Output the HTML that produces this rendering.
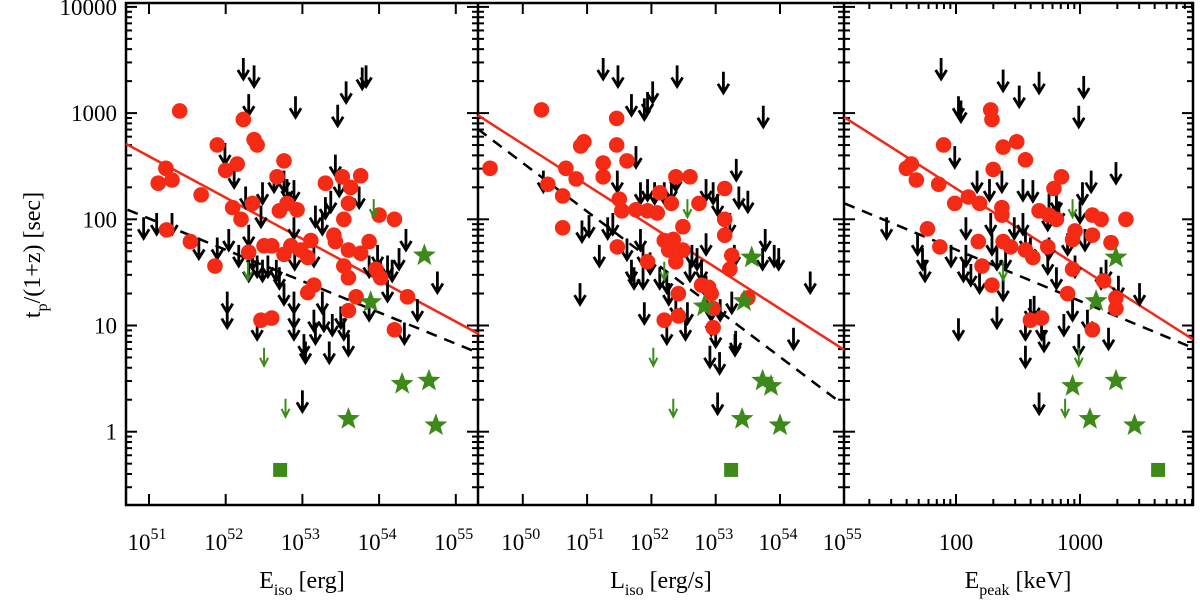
<!DOCTYPE html>
<html><head><meta charset="utf-8"><style>
html,body{margin:0;padding:0;background:#fff;}
svg{display:block;font-family:"Liberation Serif",serif;}
</style></head><body>
<svg id="chart" width="1200" height="604" viewBox="0 0 1200 604" xmlns="http://www.w3.org/2000/svg">
<g id="axes"></g>
<g id="marks"></g>
<text x="40" y="255" font-size="24" text-anchor="middle" transform="rotate(-90 40 255)">t<tspan font-size="16" dy="7">p</tspan><tspan dy="-7">/(1+z) [sec]</tspan></text>
<text x="302" y="588" font-size="24" text-anchor="middle">E<tspan font-size="16" dy="7">iso</tspan><tspan dy="-7"> [erg]</tspan></text>
<text x="661" y="588" font-size="24" text-anchor="middle">L<tspan font-size="16" dy="7">iso</tspan><tspan dy="-7"> [erg/s]</tspan></text>
<text x="1018" y="588" font-size="24" text-anchor="middle">E<tspan font-size="16" dy="7">peak</tspan><tspan dy="-7"> [keV]</tspan></text>
</svg>
<script>
// ---- data (log10 values) ----
const p1Red=[[51.40,3.02],[52.23,2.94],[52.37,2.75],[52.41,2.70],[51.12,2.34],[51.22,2.48],[51.3,2.37],[51.68,2.23],[51.89,2.70],[52.0,2.46],[52.15,2.52],[52.09,2.11],[52.2,2.00],[52.35,2.15],[51.23,1.90],[51.54,1.79],[51.86,1.56],[52.3,1.69],[52.5,1.75],[52.6,1.75],[52.76,2.55],[52.67,2.40],[52.7,2.08],[52.8,2.15],[52.93,2.09],[52.85,1.75],[52.98,1.71],[53.11,1.80],[53.07,1.64],[52.76,1.67],[53.15,1.38],[53.07,1.31],[52.46,1.05],[52.6,1.07],[53.3,2.34],[53.52,2.40],[53.76,2.41],[53.63,2.30],[53.6,2.15],[53.54,2.00],[53.41,1.85],[53.43,1.79],[53.6,1.71],[53.76,1.68],[53.87,1.79],[54.0,2.04],[54.2,2.00],[53.54,1.56],[53.6,1.45],[53.7,1.27],[53.6,1.14],[53.96,1.53],[54.37,1.27],[54.2,0.96],[54.02,1.45]];
const p1Arrow=[[52.23,3.50],[52.37,3.43],[52.3,3.16],[52.91,3.14],[53.46,3.06],[53.57,3.28],[53.78,3.41],[53.83,3.43],[51.99,2.70],[52.11,2.48],[52.26,2.29],[52.48,2.33],[52.63,2.44],[52.76,2.44],[52.8,2.36],[52.89,2.35],[53.43,2.59],[53.48,2.40],[53.37,2.25],[53.3,2.19],[53.74,2.29],[50.93,2.00],[51.1,2.04],[51.3,2.04],[51.65,1.81],[51.89,1.81],[52.04,1.89],[52.17,1.74],[52.3,1.93],[52.35,1.71],[52.46,2.11],[52.41,1.64],[52.48,1.60],[52.55,1.64],[52.66,1.60],[52.7,1.53],[52.89,2.00],[52.9,1.71],[53.17,2.11],[53.26,2.04],[53.15,1.74],[52.76,1.38],[52.89,1.30],[52.89,1.16],[52.89,1.05],[53.02,0.90],[53.04,0.83],[53.15,1.13],[53.17,1.01],[53.26,1.30],[53.28,1.13],[53.39,1.09],[53.35,0.83],[53.5,1.16],[53.54,1.05],[53.6,0.90],[53.87,1.64],[53.98,1.74],[54.02,1.60],[54.11,1.64],[54.11,1.41],[54.17,1.60],[54.26,1.71],[54.35,1.89],[53.87,1.23],[54.33,1.01],[54.5,1.23],[54.76,1.49],[52.02,1.30],[52.02,1.16],[52.41,1.05],[53.0,0.37],[52.3,1.60]];
const p1GreenArrow=[[53.93,2.19],[52.29,1.60],[52.5,0.79],[52.78,0.31]];
const p1Star=[[54.59,1.66],[53.89,1.22],[54.3,0.45],[54.65,0.48],[53.6,0.12],[54.74,0.06]];
const p1Square=[[52.71,-0.36]];
const p1RedFit=[[50.70,2.71],[55.30,0.92]];
const p1BlackFit=[[50.72,2.09],[55.3,0.74]];

const p2Red=[[49.49,2.48],[50.29,3.03],[51.46,2.95],[51.46,2.70],[50.9,2.69],[50.95,2.73],[50.67,2.48],[50.83,2.38],[51.25,2.53],[51.25,2.40],[51.62,2.55],[50.39,2.33],[50.62,2.22],[50.62,1.92],[51.5,2.19],[51.54,2.08],[51.76,2.09],[51.94,2.08],[52.09,2.06],[52.31,2.15],[52.38,2.40],[52.6,2.40],[52.13,2.25],[51.47,1.74],[52.2,1.80],[52.34,1.81],[52.27,1.71],[52.49,1.71],[52.38,1.60],[52.49,1.93],[52.74,2.15],[53.14,2.29],[53.14,2.00],[53.14,1.85],[53.25,1.66],[53.22,1.53],[52.78,1.38],[52.89,1.36],[52.42,1.30],[52.2,1.05],[52.42,1.09],[52.96,1.16],[52.96,0.98],[53.5,1.26],[51.94,1.60],[52.93,1.30]];
const p2Arrow=[[51.25,3.50],[51.48,3.43],[52.4,3.43],[53.12,3.37],[52.02,3.28],[51.94,3.18],[51.69,3.16],[51.89,3.12],[53.74,3.05],[51.76,2.67],[53.32,2.55],[51.47,2.44],[50.32,2.44],[50.92,1.97],[51.03,2.02],[51.32,2.00],[51.4,2.04],[51.83,2.33],[51.94,2.36],[52.05,2.33],[52.2,2.33],[52.31,2.36],[52.38,2.45],[52.85,2.36],[52.96,2.33],[53.03,2.22],[53.36,2.29],[53.5,2.25],[53.22,2.04],[53.77,1.89],[53.91,1.74],[53.98,1.71],[53.73,1.71],[53.29,1.74],[52.85,1.85],[52.63,1.74],[52.71,1.71],[51.19,1.74],[51.62,1.80],[51.69,1.60],[51.83,1.89],[51.87,1.74],[51.98,1.67],[52.13,1.53],[52.24,1.49],[51.73,1.53],[51.87,1.53],[52.27,1.38],[52.38,1.26],[52.56,1.20],[52.6,1.60],[52.78,1.60],[52.85,1.45],[52.93,1.23],[52.93,1.09],[53.0,0.98],[53.07,1.23],[53.25,1.30],[53.3,0.90],[53.31,0.93],[52.91,0.79],[53.06,0.73],[52.24,1.01],[52.53,1.05],[51.89,1.20],[50.89,1.38],[54.21,0.96],[54.47,1.49],[53.03,0.35]];
const p2GreenArrow=[[52.56,2.19],[52.2,1.60],[52.03,0.79],[52.34,0.31]];
const p2Star=[[53.56,1.64],[52.82,1.18],[53.44,1.23],[53.73,0.48],[53.86,0.43],[53.41,0.12],[54.0,0.06]];
const p2Square=[[53.24,-0.36]];
const p2RedFit=[[49.30,2.98],[55.0,0.77]];
const p2BlackFit=[[49.30,2.85],[54.95,0.27]];

const p3Red=[[1.60,2.48],[1.64,2.52],[1.68,2.37],[1.86,2.33],[1.90,2.70],[1.99,2.15],[2.10,2.21],[2.19,2.15],[1.77,1.91],[1.87,1.74],[2.28,3.03],[2.29,2.94],[2.38,2.68],[2.49,2.73],[2.56,2.56],[2.30,2.47],[2.37,2.11],[2.37,2.04],[2.18,1.79],[2.21,1.56],[2.29,1.38],[2.38,1.79],[2.44,1.74],[2.56,1.71],[2.62,1.64],[2.67,2.08],[2.74,1.74],[2.79,2.29],[2.85,2.40],[2.81,2.00],[2.90,1.30],[2.96,1.89],[2.94,1.81],[3.10,2.04],[3.17,2.00],[3.10,1.85],[3.37,2.00],[3.25,1.78],[3.19,1.42],[3.29,1.26],[3.29,1.16],[3.10,0.96],[2.60,1.05],[2.69,1.07],[2.94,1.53],[2.75,2.04]];
const p3Arrow=[[1.88,3.50],[2.38,3.39],[2.67,3.37],[3.03,3.33],[2.51,3.24],[2.02,3.14],[2.04,3.10],[2.99,3.05],[1.99,2.67],[3.29,2.52],[2.17,2.44],[2.27,2.36],[2.37,2.44],[2.54,2.36],[2.62,2.35],[2.75,2.22],[2.81,2.25],[3.02,2.33],[3.09,2.44],[1.44,2.00],[1.69,1.85],[1.73,1.71],[1.75,1.60],[1.96,1.74],[2.08,2.00],[2.08,1.74],[2.06,1.60],[2.12,1.56],[2.19,1.49],[2.28,2.04],[2.29,1.85],[2.33,1.71],[2.40,1.71],[2.47,2.00],[2.54,2.04],[2.56,1.89],[2.60,1.81],[2.74,2.08],[2.75,1.81],[2.83,2.15],[2.90,1.85],[3.00,2.15],[3.04,1.89],[2.96,1.64],[2.81,1.53],[2.74,1.67],[2.38,1.42],[2.33,1.16],[2.56,1.05],[2.60,1.23],[2.63,1.26],[2.69,1.05],[2.71,0.94],[2.87,1.09],[2.94,1.23],[3.06,1.13],[3.17,1.53],[3.21,1.60],[3.31,1.45],[3.23,0.96],[3.48,1.38],[2.02,1.05],[2.56,0.79],[2.67,0.35],[2.99,0.90]];
const p3GreenArrow=[[2.94,2.19],[2.38,1.60],[2.99,0.79],[2.88,0.31]];
const p3Star=[[3.29,1.64],[3.13,1.23],[2.94,0.43],[3.29,0.48],[3.08,0.12],[3.44,0.06]];
const p3Square=[[3.63,-0.36]];
const p3RedFit=[[1.10,2.96],[3.91,0.87]];
const p3BlackFit=[[1.10,2.15],[3.91,0.79]];

const yTickLabels=["1","10","100","1000","10000"];
const p1TickLabels=["51","52","53","54","55"];
const p2TickLabels=["50","51","52","53","54","55"];
const p3TickLabels=["100","1000"];

// ---- geometry ----
const TOP=3, BOT=505;
const yScale=v=>431.7-v*106.2;
const panels=[
 {name:'eiso',L:126,R:478,x:v=>149+(v-51)*76.7},
 {name:'liso',L:478,R:844,x:v=>844.3+(v-55)*64.3},
 {name:'epeak',L:844,R:1193,x:v=>956+(v-2)*124}
];
const NS='http://www.w3.org/2000/svg';
const axes=document.getElementById('axes'), marks=document.getElementById('marks');
function mk(tag,attrs,parent){const e=document.createElementNS(NS,tag);for(const k in attrs)e.setAttribute(k,attrs[k]);parent.appendChild(e);return e;}

const fr=mk('rect',{x:126,y:TOP,width:1067,height:BOT-TOP,fill:'none',stroke:'#000','stroke-width':2.5},axes);


[478,844].forEach(xx=>{const l=mk('line',{x1:xx,y1:TOP,x2:xx,y2:BOT,stroke:'#000','stroke-width':2.5},axes);
 
 });

const ymin=-0.69, ymax=4.04;
for(let d=-1;d<=4;d++){for(let m=1;m<=9;m++){const lv=d+Math.log10(m);if(lv<ymin||lv>ymax)continue;
 const y=yScale(lv), len=m===1?11:6;
 [[126,1],[478,1],[478,-1],[844,1],[844,-1],[1193,-1]].forEach(([xx,s])=>{
  const t=mk('line',{x1:xx,y1:y,x2:xx+s*len,y2:y,stroke:'#000','stroke-width':2},axes);
  
  });
}}
yTickLabels.forEach((lab,i)=>{const t=mk('text',{x:117,y:yScale(i)+8,'font-size':23,'text-anchor':'end'},axes);t.textContent=lab;
 
 });

function xtick(x,len){[[BOT,-1],[TOP,1]].forEach(([yy,s])=>{const t=mk('line',{x1:x,y1:yy,x2:x,y2:yy+s*len,stroke:'#000','stroke-width':2},axes);
 
 });}
function powLabel(x,exp,name){const t=mk('text',{x:x-2,y:550,'font-size':23,'text-anchor':'middle'},axes);
 t.textContent='10';const s=mk('tspan',{'font-size':16,dy:-11},t);s.textContent=exp;
 
 }
p1TickLabels.forEach(e=>{const x=panels[0].x(+e);xtick(x,11);powLabel(x,e,'x-tick-label-eiso');});
p2TickLabels.forEach(e=>{const x=panels[1].x(+e);if(x<843)xtick(x,11);powLabel(x,e,'x-tick-label-liso');});
for(let d=1;d<=3;d++)for(let m=1;m<=9;m++){const lv=d+Math.log10(m);const x=panels[2].x(lv);if(x<=845||x>=1192)continue;xtick(x,m===1?11:6);}
p3TickLabels.forEach((lab,i)=>{const t=mk('text',{x:panels[2].x(i+2),y:550,'font-size':23,'text-anchor':'middle'},axes);t.textContent=lab;
 
 });

const sets=[[p1Red,p1Arrow,p1GreenArrow,p1Star,p1Square,p1RedFit,p1BlackFit],[p2Red,p2Arrow,p2GreenArrow,p2Star,p2Square,p2RedFit,p2BlackFit],[p3Red,p3Arrow,p3GreenArrow,p3Star,p3Square,p3RedFit,p3BlackFit]];
function starPts(cx,cy,R){const r=R*0.42;let p=[];for(let i=0;i<10;i++){const a=-Math.PI/2+i*Math.PI/5,rr=i%2?r:R;p.push((cx+rr*Math.cos(a)).toFixed(1)+','+(cy+rr*Math.sin(a)).toFixed(1));}return p.join(' ');}
sets.forEach((s,pi)=>{const P=panels[pi];
 const g=mk('g',{},marks);
 
 
 const [red,arr,garr,star,sq,rf,bf]=s;
 const fitR=mk('line',{x1:P.x(rf[0][0]),y1:yScale(rf[0][1]),x2:P.x(rf[1][0]),y2:yScale(rf[1][1]),stroke:'#f02a18','stroke-width':2.5},g);
 
 
 const fitB=mk('line',{x1:P.x(bf[0][0]),y1:yScale(bf[0][1]),x2:P.x(bf[1][0]),y2:yScale(bf[1][1]),stroke:'#000','stroke-width':2.5,'stroke-dasharray':'11,8'},g);
 
 
 arr.forEach(([a,b])=>{const x=P.x(a),y=yScale(b);
  const e=mk('path',{d:`M${x},${y-2}V${y+17}M${x-5.5},${y+10}L${x},${y+19}L${x+5.5},${y+10}`,stroke:'#000','stroke-width':2.8,fill:'none'},g);
  
  });
 red.forEach(([a,b])=>{const c=mk('circle',{cx:P.x(a),cy:yScale(b),r:7.8,fill:'#f52a14'},g);
  
  });
 garr.forEach(([a,b])=>{const x=P.x(a),y=yScale(b);
  const e=mk('path',{d:`M${x},${y}V${y+17}M${x-4},${y+10}L${x},${y+18}L${x+4},${y+10}`,stroke:'#3d8a1a','stroke-width':2,fill:'none'},g);
  
  });
 star.forEach(([a,b])=>{const e=mk('polygon',{points:starPts(P.x(a),yScale(b),12),fill:'#3d8a1a'},g);
  
  });
 sq.forEach(([a,b])=>{const e=mk('rect',{x:P.x(a)-7,y:yScale(b)-7,width:14,height:14,fill:'#3d8a1a'},g);
  
  });
});
</script>
</body></html>
